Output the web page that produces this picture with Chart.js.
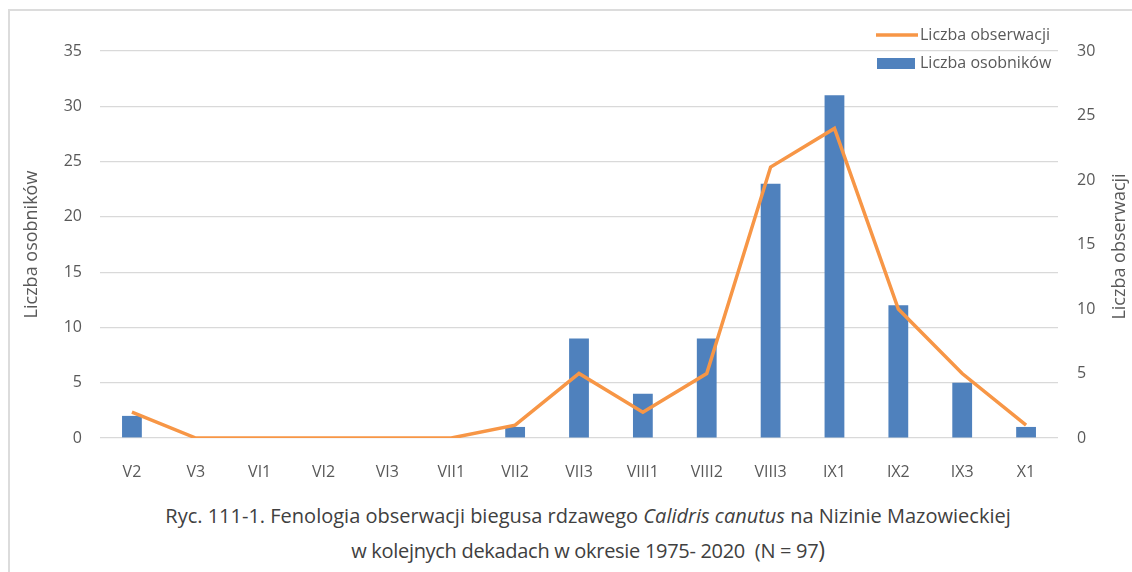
<!DOCTYPE html>
<html>
<head>
<meta charset="utf-8">
<script src="https://cdn.jsdelivr.net/npm/chart.js@4"></script>
<style>
  body { margin: 0; background: #fff; width: 1132px; height: 572px; overflow: hidden; position: relative; font-family: "Open Sans", sans-serif; }
  #frame { position: absolute; left: 8px; top: 9px; right: -5px; bottom: -5px; border-left: 2px solid #dcdcdc; border-top: 2px solid #dcdcdc; }
  #wrap { position: absolute; left: 0; top: 0; width: 1132px; height: 490px; }
  .cap { position: absolute; left: 0; width: 1176px; text-align: center; color: #404040; font-size: 20px; white-space: nowrap; }
</style>
</head>
<body>
<div id="frame"></div>
<div id="wrap"><canvas id="myChart"></canvas></div>
<div class="cap" style="top:502px">Ryc. 111-1. Fenologia obserwacji biegusa rdzawego <i>Calidris canutus</i> na Nizinie Mazowieckiej</div>
<div class="cap" style="top:533px; letter-spacing:-0.3px">w kolejnych dekadach w okresie 1975- 2020 &nbsp;(N = 97<span style="font-size:23px">)</span></div>
<script>
// decades (month in roman numerals + decade number)
const decades = ["V2", "V3", "VI1", "VI2", "VI3", "VII1", "VII2", "VII3", "VIII1", "VIII2", "VIII3", "IX1", "IX2", "IX3", "X1"];
const individuals = [2, 0, 0, 0, 0, 0, 1, 9, 4, 9, 23, 31, 12, 5, 1];
const observations = [2, 0, 0, 0, 0, 0, 1, 5, 2, 5, 21, 24, 10, 5, 1];
const leftTicks = [0, 5, 10, 15, 20, 25, 30, 35];
const rightTicks = [0, 5, 10, 15, 20, 25, 30];

const blue = "#4f81bd";
const orange = "#f79646";
const txt = "#595959";
const tickFont = { family: "Open Sans", size: 16 };

// legend + rotated axis titles, drawn by hand
const extras = {
    id: 'extras',
    afterDraw(chart) {
        const c = chart.ctx;
        const area = chart.chartArea;
        const midY = (area.top + area.bottom) / 2;
        c.save();
        c.fillStyle = txt;
        c.font = "18px 'Open Sans'";
        c.textAlign = 'center';
        c.textBaseline = 'middle';
        c.translate(32, midY);
        c.rotate(-Math.PI / 2);
        c.fillText("Liczba osobników", 0, 0);
        c.restore();

        c.save();
        c.fillStyle = txt;
        c.font = "18px 'Open Sans'";
        c.textAlign = 'center';
        c.textBaseline = 'middle';
        c.translate(1120, midY + 2);
        c.rotate(-Math.PI / 2);
        c.fillText("Liczba obserwacji", 0, 0);
        c.restore();

        c.save();
        c.strokeStyle = orange;
        c.lineWidth = 3.5;
        c.beginPath();
        c.moveTo(876, 35);
        c.lineTo(918, 35);
        c.stroke();
        c.fillStyle = blue;
        c.fillRect(877, 58, 38, 11);
        c.fillStyle = txt;
        c.font = "16px 'Open Sans'";
        c.textBaseline = 'middle';
        c.fillText("Liczba obserwacji", 920, 35);
        c.fillText("Liczba osobników", 920, 63);
        c.restore();
    }
};

const ctx = document.getElementById('myChart');

new Chart(ctx, {
    type: 'bar',
    data: {
        labels: decades,
        datasets: [{
            type: 'line',
            label: "Liczba obserwacji",
            data: observations,
            yAxisID: 'y2',
            borderColor: orange,
            borderWidth: 3.5,
            pointRadius: 0,
            tension: 0,
            order: 0
        }, {
            type: 'bar',
            label: "Liczba osobników",
            data: individuals,
            yAxisID: 'y',
            backgroundColor: blue,
            categoryPercentage: 1,
            barPercentage: 0.31,
            order: 1
        }]
    },
    options: {
        responsive: true,
        maintainAspectRatio: false,
        animation: false,
        layout: { padding: { top: 51, left: 0, right: 0, bottom: 0 } },
        plugins: {
            legend: { display: false },
            tooltip: { enabled: false }
        },
        scales: {
            x: {
                grid: { display: false },
                border: { display: false },
                ticks: { color: txt, font: tickFont, padding: 17, maxRotation: 0, autoSkip: false },
                afterFit(scale) { scale.height = 52; }
            },
            y: {
                position: 'left',
                min: 0,
                max: 35,
                afterBuildTicks(scale) { scale.ticks = leftTicks.map(v => ({ value: v })); },
                grid: { color: "#d9d9d9", lineWidth: 1.2, drawTicks: false },
                border: { display: false },
                ticks: { color: txt, font: tickFont, padding: 18 },
                afterFit(scale) { scale.width = 100; }
            },
            y2: {
                position: 'right',
                min: 0,
                max: 30,
                afterBuildTicks(scale) { scale.ticks = rightTicks.map(v => ({ value: v })); },
                grid: { drawOnChartArea: false, drawTicks: false },
                border: { display: false },
                ticks: { color: txt, font: tickFont, padding: 19 },
                afterFit(scale) { scale.width = 74; }
            }
        }
    },
    plugins: [extras]
});
</script>
</body>
</html>
